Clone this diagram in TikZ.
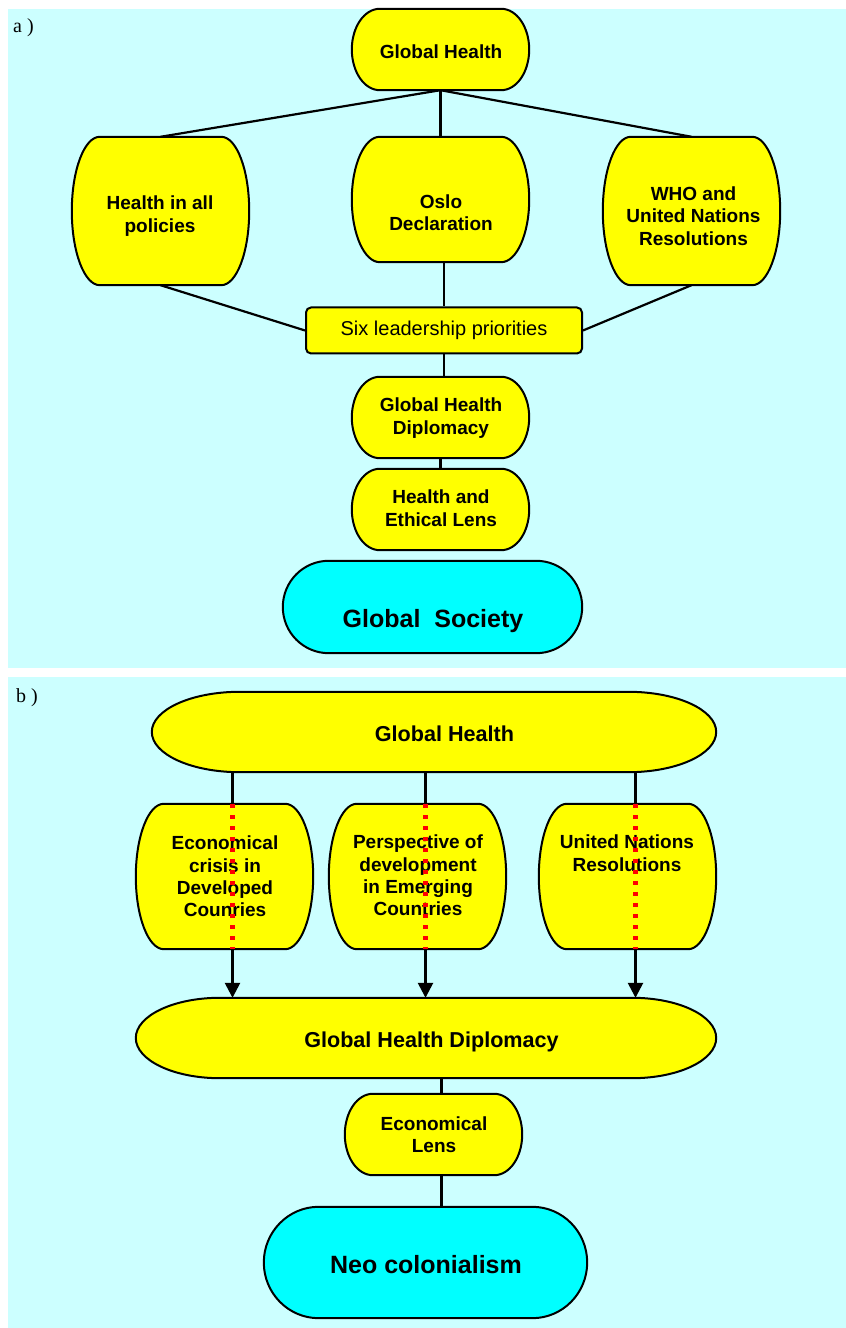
\documentclass[tikz,border=0pt]{standalone}
\usepackage{fontspec}
\setmainfont{Liberation Serif}
\setsansfont{Liberation Sans}
\usetikzlibrary{calc,arrows.meta}
\definecolor{panelcyan}{HTML}{CCFFFF}
\definecolor{boxyellow}{HTML}{FFFF00}
\definecolor{boxcyan}{HTML}{00FFFF}
\definecolor{dotred}{HTML}{FF0000}
% flat top and bottom, half-ellipse ends of radius #3 round node #2
\newcommand\capsule[3][boxyellow]{%
\edef\capname{#2}%
\draw[fill=#1,line width=2pt] let \p1=(\capname.north west), \p2=(\capname.south east), \n1={(\y1-\y2)/2} in
 (\x1+#3pt,\y1) -- (\x2-#3pt,\y1) arc[start angle=90,end angle=-90,x radius=#3pt,y radius=\n1]
 -- (\x1+#3pt,\y2) arc[start angle=270,end angle=90,x radius=#3pt,y radius=\n1] -- cycle;}
\begin{document}
\begin{tikzpicture}[x=1pt,y=1pt,line join=round,
 shp/.style 2 args={minimum width=#1,minimum height=#2,inner sep=0pt},
 txt/.style={inner sep=0pt,align=center,anchor=north,font=\sffamily\bfseries\fontsize{19}{22.3}\selectfont},
 bigtxt/.style={font=\sffamily\bfseries\fontsize{21.6}{25}\selectfont},
 hugetxt/.style={font=\sffamily\bfseries\fontsize{25}{29}\selectfont},
 tag/.style={inner sep=0pt,anchor=base west,font=\fontsize{20}{23}\selectfont},
 link/.style={line width=2.2pt},
 arr/.style={line width=2.6pt,-{Triangle[width=15pt,length=15pt]}},
 reddot/.style={dotred,line width=4.5pt,dash pattern=on 4.5pt off 6.5pt}]
\useasboundingbox (0,0) rectangle (846,1328);
\fill[panelcyan] (8,660) rectangle (846,1319);
\fill[panelcyan] (8,0) rectangle (846,651);
\node[tag] (atag) at (13,1295) {a )};
\node[tag] (btag) at (16,625) {b )};
% a)
\node[shp={177}{81}] (gh) at (440.5,1278.5) {};
\node[shp={177}{148}] (hiap) at (160.5,1117) {};
\node[shp={177}{125}] (oslo) at (440.5,1128.5) {};
\node[shp={177}{148}] (who) at (691.5,1117) {};
\node[shp={177}{81}] (ghd) at (440.5,910.5) {};
\node[shp={177}{81}] (hel) at (440.5,818.5) {};
\node[shp={299}{92}] (gs) at (432.5,721) {};
\foreach \bx in {gh,hiap,oslo,who,ghd,hel} \capsule{\bx}{28};
\capsule[boxcyan]{gs}{46}
\node[draw,fill=boxyellow,rounded corners=5,line width=2pt,minimum width=276,minimum height=46,inner sep=0pt,
 font=\sffamily\fontsize{20}{24}\selectfont] (six) at (444,997.5) {Six leadership priorities};
\node[txt] (gh-t) at (441,1283.7) {Global Health};
\node[txt] (hiap-t) at (160,1132) {Health in all\\policies};
\node[txt] (oslo-t) at (441,1133.7) {Oslo\\Declaration};
\node[txt] (who-t) at (693.5,1141.3) {WHO and\\United Nations\\Resolutions};
\node[txt] (ghd-t) at (441,930) {Global Health\\Diplomacy};
\node[txt] (hel-t) at (441,838) {Health and\\Ethical Lens};
\node[txt,hugetxt] (gs-t) at (433,718.7) {Global\ \ Society};
\draw[link] (gh.south) -- (hiap.north);
\draw[link] (gh.south) -- (oslo.north);
\draw[link] (gh.south) -- (who.north);
\draw[link] (hiap.south) -- (six.west);
\draw[link] (who.south) -- (six.east);
\draw[link] (six.north |- oslo.south) -- (six.north);
\draw[link] (six.south) -- (six.south |- ghd.north);
\draw[link] (ghd.south) -- (hel.north);
% b)
\node[shp={564}{80}] (ghb) at (434,596) {};
\node[shp={177}{145}] (ec) at (224.5,451.5) {};
\node[shp={177}{145}] (pers) at (417.5,451.5) {};
\node[shp={177}{145}] (un) at (627.5,451.5) {};
\node[shp={580}{80}] (ghdb) at (426,290) {};
\node[shp={177}{81}] (el) at (433.5,193.5) {};
\node[shp={323}{111}] (nc) at (425.5,65.5) {};
\capsule{ghb}{88}
\foreach \bx in {ec,pers,un,el} \capsule{\bx}{28};
\capsule{ghdb}{84}
\capsule[boxcyan]{nc}{55}
\node[txt,bigtxt] (ghb-t) at (444.5,602) {Global Health};
\node[txt] (ec-t) at (225,492) {Economical\\crisis in\\Developed\\Counries};
\node[txt] (pers-t) at (418,493) {Perspective of\\development\\in Emerging\\Countries};
\node[txt] (un-t) at (627,493) {United Nations\\Resolutions};
\node[txt,bigtxt] (ghdb-t) at (431.5,296) {Global Health Diplomacy};
\node[txt] (el-t) at (434,211.3) {Economical\\Lens};
\node[txt,hugetxt] (nc-t) at (426,73) {Neo colonialism};
\foreach \bx in {ec,pers,un}{
 \draw[link] ([xshift=8]\bx.north) -- ([xshift=8]\bx.north |- ghb.south);
 \draw[arr] ([xshift=8]\bx.south) -- ([xshift=8]\bx.south |- ghdb.north);
 \draw[reddot] ([xshift=8]\bx.north) -- ([xshift=8]\bx.south);
}
\draw[link] ([xshift=8]el.north) -- ([xshift=8]el.north |- ghdb.south);
\draw[link] ([xshift=8]el.south) -- ([xshift=8]el.south |- nc.north);
\end{tikzpicture}
\end{document}
